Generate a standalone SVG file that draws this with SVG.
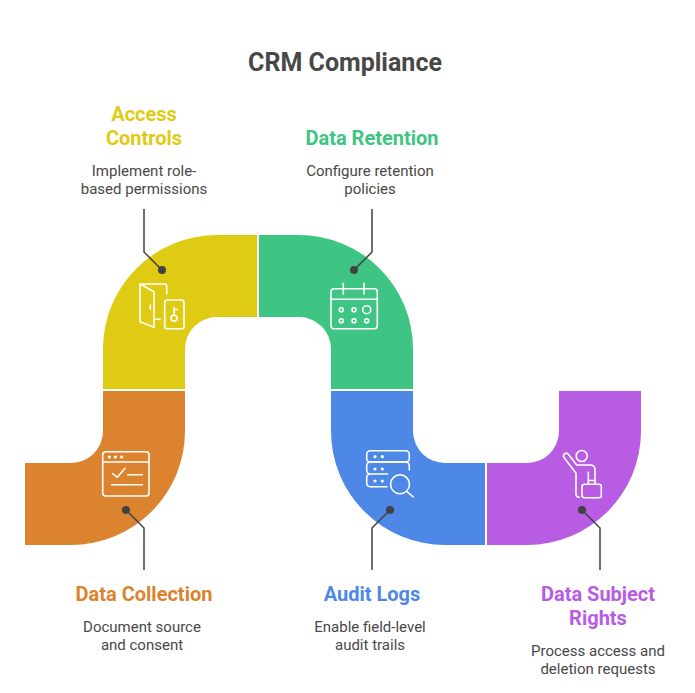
<svg xmlns="http://www.w3.org/2000/svg" width="695" height="693" viewBox="0 0 695 693">
<style>
text{font-family:Roboto,"Liberation Sans",sans-serif;text-anchor:middle}
.title{font-size:25px;font-weight:700;fill:#484848}
.head{font-size:20px;font-weight:700}
.desc{font-size:15px;fill:#484848}
.icon{fill:none;stroke:#fff;stroke-width:1.6;stroke-linecap:round;stroke-linejoin:round}
.conn{fill:none;stroke:#424242;stroke-width:1.5}
.dot{fill:#424242}
</style>
<rect width="695" height="693" fill="#fff"/>
<text class="title" x="345" y="71">CRM Compliance</text>
<g id="access-controls">
<path fill="#DFCB14" d="M103 389V349A114 114 0 0 1 217 235H257V317H217A32 32 0 0 0 185 349V389Z"/>
<g class="icon">
<path d="M140 284V321.7L154 327.3V291.7ZM140 284H164.7Q166.7 284 166.7 286V294M155.7 319.3H160M150.3 305V309.3"/>
<rect x="164.7" y="300" width="19.3" height="28.7" rx="2.5"/>
<circle cx="174" cy="318.3" r="3"/>
<path d="M174 315.3V307.5M174 309.5H177.3"/>
</g>
<text class="head" fill="#DFCB14" x="144" y="121">Access</text>
<text class="head" fill="#DFCB14" x="144" y="145">Controls</text>
<text class="desc" x="144" y="176">Implement role-</text>
<text class="desc" x="144" y="194">based permissions</text>
</g>
<g id="data-retention">
<path fill="#3EC583" d="M259 235H299A114 114 0 0 1 413 349V389H331V349A32 32 0 0 0 299 317H259Z"/>
<g class="icon">
<rect x="331" y="288.7" width="46.3" height="40" rx="3"/>
<path d="M331 299.3H377.3M343.3 283.3V294.3M364 283.3V294.3"/>
<circle cx="341.3" cy="309.7" r="2"/><circle cx="354" cy="309.7" r="2"/><circle cx="366.7" cy="309.7" r="4"/>
<circle cx="341.3" cy="320.7" r="2"/><circle cx="354" cy="320.7" r="2"/><circle cx="366.7" cy="320.7" r="2"/>
</g>
<text class="head" fill="#3EC583" x="372" y="145">Data Retention</text>
<text class="desc" x="370" y="176">Configure retention</text>
<text class="desc" x="370" y="194">policies</text>
</g>
<g id="data-collection">
<path fill="#DC8330" d="M103 391H185V431A114 114 0 0 1 71 545H25V463H71A32 32 0 0 0 103 431Z"/>
<g class="icon">
<rect x="102.700" y="451.700" width="46.300" height="44.300" rx="3"/>
<path d="M102.700 462H149M112.700 473.700L117.300 477.300L125 468.300M127.700 474.700H142.300M111.700 484.700H142.300"/>
<circle cx="109.300" cy="457" r=".8"/><circle cx="115.300" cy="457" r=".8"/><circle cx="121.700" cy="457" r=".8"/>
</g>
<text class="head" fill="#DC8330" x="144" y="601">Data Collection</text>
<text class="desc" x="142" y="632">Document source</text>
<text class="desc" x="142" y="650">and consent</text>
</g>
<g id="audit-logs">
<path fill="#4E88E7" d="M331 391H413V431A32 32 0 0 0 445 463H485V545H445A114 114 0 0 1 331 431Z"/>
<g class="icon">
<rect x="366.700" y="450.700" width="42.600" height="11.300" rx="3.500"/>
<path d="M409.300 470V466Q409.300 462 405.300 462H370.700Q366.700 462 366.700 466V470Q366.700 474 370.700 474H387.700H370.700Q366.700 474 366.700 478V482.700Q366.700 486.700 370.700 486.700H387"/>
<circle cx="375" cy="456.700" r=".8"/><circle cx="382.300" cy="456.700" r=".8"/>
<circle cx="375" cy="469" r=".8"/><circle cx="382.300" cy="469" r=".8"/>
<circle cx="375" cy="481" r=".8"/><circle cx="382.300" cy="481" r=".8"/>
<circle cx="400" cy="484.300" r="9.500"/>
<path d="M407 491.700L413.300 497"/>
</g>
<text class="head" fill="#4E88E7" x="372" y="601">Audit Logs</text>
<text class="desc" x="370" y="632">Enable field-level</text>
<text class="desc" x="370" y="650">audit trails</text>
</g>
<g id="data-subject-rights">
<path fill="#B75CE3" d="M559 391H641V431A114 114 0 0 1 527 545H487V463H527A32 32 0 0 0 559 431Z"/>
<g class="icon">
<circle cx="581.700" cy="456" r="5.500"/>
<path d="M579.300 497.300Q576 497.300 576 493.500V473.300L564 457.500Q562.500 455 565 453.500Q566.800 452.500 568.500 454.500L576.700 465H590Q595 465 595 470V480.500H588.300V472.300M588.300 480.500V484.300M595 480.500V484.300"/>
<rect x="582" y="484.300" width="19.300" height="13.400" rx="2.500"/>
</g>
<text class="head" fill="#B75CE3" x="598" y="601">Data Subject</text>
<text class="head" fill="#B75CE3" x="598" y="625">Rights</text>
<text class="desc" x="598" y="656">Process access and</text>
<text class="desc" x="598" y="674">deletion requests</text>
</g>
<g id="connectors">
<path class="conn" d="M144 209V252L162 270"/><circle class="dot" cx="162" cy="270" r="4"/>
<path class="conn" d="M372 209V252L354 270"/><circle class="dot" cx="354" cy="270" r="4"/>
<path class="conn" d="M144 570V528L126 510"/><circle class="dot" cx="126" cy="510" r="4"/>
<path class="conn" d="M372 570V528L390 510"/><circle class="dot" cx="390" cy="510" r="4"/>
<path class="conn" d="M600 570V528L582 510"/><circle class="dot" cx="582" cy="510" r="4"/>
</g>
</svg>
